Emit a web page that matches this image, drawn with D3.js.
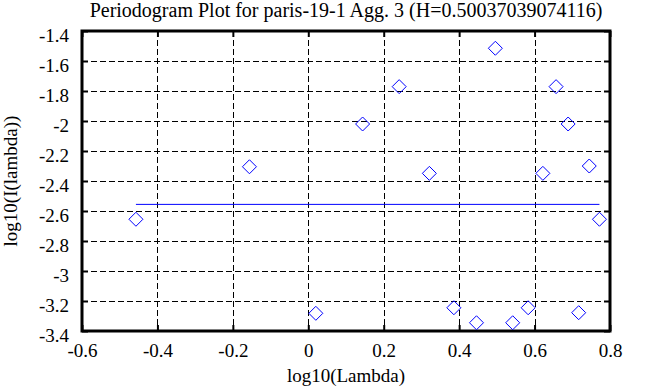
<!DOCTYPE html>
<html>
<head>
<meta charset="utf-8">
<script src="https://cdn.jsdelivr.net/npm/d3@7"></script>
<style>
  body { margin: 0; background: #fff; }
  svg text { font-family: "Liberation Serif", "Times New Roman", serif; }
</style>
</head>
<body>
<div id="chart"></div>
<script>
// periodogram points (log10 lambda, log10 I(lambda))
const logLambda = [-0.457, -0.156, 0.020, 0.144, 0.241, 0.321, 0.386, 0.446, 0.496,
                   0.542, 0.583, 0.622, 0.657, 0.689, 0.717, 0.745, 0.772];
const logI = [-2.655, -2.305, -3.282, -2.020, -1.771, -2.349, -3.245, -3.345, -1.515,
              -3.345, -3.245, -2.349, -1.771, -2.020, -3.278, -2.300, -2.655];
const xTicks = [-0.6, -0.4, -0.2, 0, 0.2, 0.4, 0.6, 0.8];
const yTicks = [-1.4, -1.6, -1.8, -2, -2.2, -2.4, -2.6, -2.8, -3, -3.2, -3.4];
const titleText = "Periodogram Plot for paris-19-1 Agg. 3 (H=0.50037039074116)";

const W = 647, H = 387;
const margin = { top: 31, right: 37, bottom: 56, left: 82 };
const FONT = "Liberation Serif";

const svg = d3.select("#chart").append("svg")
    .attr("width", W)
    .attr("height", H)
    .attr("font-family", FONT);

const x = d3.scaleLinear().domain([-0.6, 0.8]).range([margin.left, W - margin.right]);
const y = d3.scaleLinear().domain([-3.4, -1.4]).range([H - margin.bottom, margin.top]);

const fmt = d => String(+d.toFixed(1));

// dashed grid, inner ticks only
svg.append("g")
    .attr("stroke", "#000")
    .attr("stroke-dasharray", "6,3")
    .selectAll("line")
    .data(xTicks.slice(1, -1))
    .join("line")
    .attr("x1", d => Math.round(x(d)) + 0.5)
    .attr("x2", d => Math.round(x(d)) + 0.5)
    .attr("y1", y(-1.4))
    .attr("y2", y(-3.4));

svg.append("g")
    .attr("stroke", "#000")
    .attr("stroke-dasharray", "6,3")
    .selectAll("line")
    .data(yTicks.slice(1, -1))
    .join("line")
    .attr("y1", d => Math.round(y(d)) + 0.5)
    .attr("y2", d => Math.round(y(d)) + 0.5)
    .attr("x1", x(-0.6))
    .attr("x2", x(0.8));

// axes with inward ticks
const xAxis = svg.append("g")
    .attr("transform", `translate(0,${y(-3.4)})`)
    .call(d3.axisBottom(x).tickValues(xTicks).tickFormat(fmt).tickSizeInner(-6).tickSizeOuter(0).tickPadding(13));
const xTop = svg.append("g")
    .attr("transform", `translate(0,${y(-1.4)})`)
    .call(d3.axisTop(x).tickValues(xTicks).tickFormat("").tickSizeInner(-6).tickSizeOuter(0));
const yAxis = svg.append("g")
    .attr("transform", `translate(${x(-0.6)},0)`)
    .call(d3.axisLeft(y).tickValues(yTicks).tickFormat(fmt).tickSizeInner(-6).tickSizeOuter(0).tickPadding(13));
const yRight = svg.append("g")
    .attr("transform", `translate(${x(0.8)},0)`)
    .call(d3.axisRight(y).tickValues(yTicks).tickFormat("").tickSizeInner(-6).tickSizeOuter(0));

[xAxis, xTop, yAxis, yRight].forEach(g => {
    g.attr("font-family", FONT).attr("font-size", 19);
    g.select(".domain").remove();
    g.selectAll(".tick line").attr("stroke", "#000").attr("stroke-width", 2);
    g.selectAll("text").attr("fill", "#000");
});
yAxis.selectAll("text").attr("dy", "0.55em");

// frame
svg.append("rect")
    .attr("x", x(-0.6))
    .attr("y", y(-1.4))
    .attr("width", x(0.8) - x(-0.6))
    .attr("height", y(-3.4) - y(-1.4))
    .attr("fill", "none")
    .attr("stroke", "#000")
    .attr("stroke-width", 3);

// fitted line (flat, at the mean)
const level = d3.mean(logI);
svg.append("line")
    .attr("x1", x(d3.min(logLambda)))
    .attr("x2", x(d3.max(logLambda)))
    .attr("y1", y(level))
    .attr("y2", y(level))
    .attr("stroke", "#0000ff")
    .attr("stroke-width", 1);

// diamonds
const r = 7;
svg.append("g")
    .selectAll("path")
    .data(logLambda.map((d, i) => [d, logI[i]]))
    .join("path")
    .attr("d", d => {
        const cx = x(d[0]), cy = y(d[1]);
        return `M${cx},${cy - r}L${cx + r},${cy}L${cx},${cy + r}L${cx - r},${cy}Z`;
    })
    .attr("fill", "none")
    .attr("stroke", "#0000ff")
    .attr("stroke-width", 1);

// title and axis labels
svg.append("text")
    .attr("x", (x(-0.6) + x(0.8)) / 2)
    .attr("y", 17)
    .attr("text-anchor", "middle")
    .attr("font-size", 20)
    .text(titleText);

svg.append("text")
    .attr("x", (x(-0.6) + x(0.8)) / 2)
    .attr("y", 382)
    .attr("text-anchor", "middle")
    .attr("font-size", 19)
    .text("log10(Lambda)");

svg.append("text")
    .attr("transform", `translate(17,${(y(-1.4) + y(-3.4)) / 2}) rotate(-90)`)
    .attr("text-anchor", "middle")
    .attr("font-size", 19)
    .text("log10(I(lambda))");
</script>
</body>
</html>
